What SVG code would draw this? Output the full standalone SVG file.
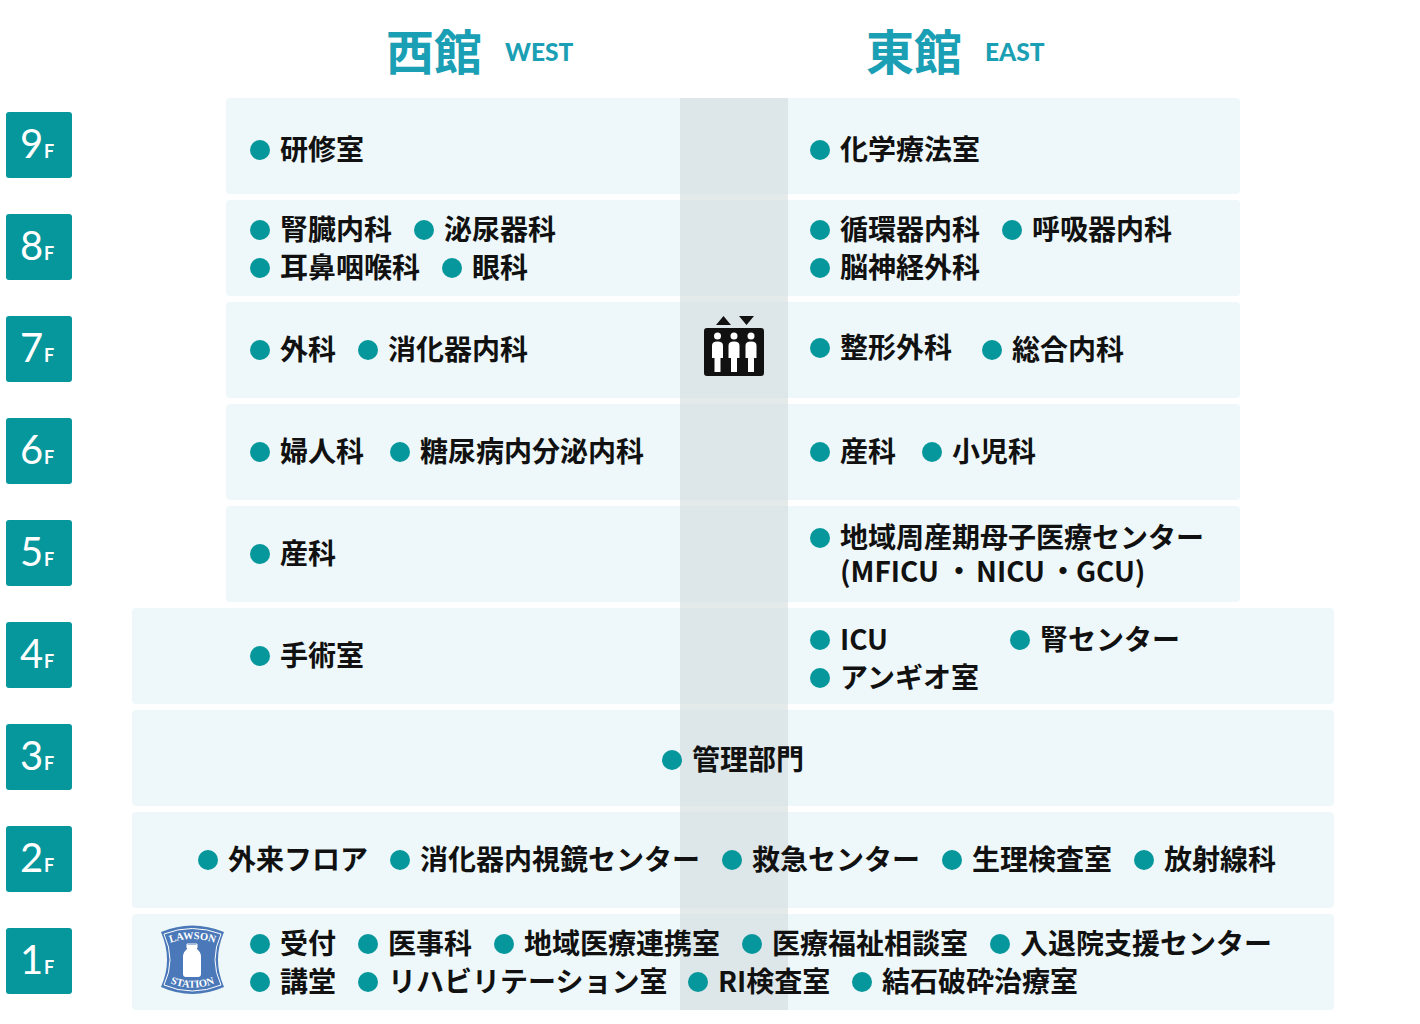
<svg xmlns="http://www.w3.org/2000/svg" width="1420" height="1024" viewBox="0 0 1420 1024">
<style>
.band{fill:#eef8fa}
.badge{fill:#05979b}
.d{fill:#05979b}
.t{font-family:"Noto Sans CJK JP","Noto Sans",sans-serif;font-size:28px;font-weight:700;fill:#111;transform:translate(-1px,1px)}
.n{font-family:"Lato",sans-serif;font-size:40px;font-weight:400;fill:#fff}
.f{font-family:"Lato",sans-serif;font-size:18px;font-weight:700;fill:#fff}
.h{font-family:"Noto Sans CJK JP",sans-serif;font-size:48px;font-weight:700;fill:#1a9fb4}
.e{font-family:"Lato",sans-serif;font-size:24.500px;font-weight:900;fill:#1a9fb4}
.lw{font-family:"Liberation Serif",serif;font-size:10.500px;font-weight:700;fill:#fff}
</style>
<defs>
<path id="person" d="M0 345.500q0-4 5.500-4t5.500 4v12.500h-2.500v14h-6v-14h-2.500z"/>
<path id="arcTop" d="M167 944 Q192 934 218 944"/>
<path id="arcBottom" d="M167 982 Q192 993 218 982"/>
</defs>
<rect width="1420" height="1024" fill="#fff"/>
<g id="headers">
<text class="h" x="386" y="70">西館</text><text class="e" x="505" y="61">WEST</text>
<text class="h" x="866" y="70">東館</text><text class="e" x="985" y="61">EAST</text>
</g>
<g id="bands">
<rect class="band" x="226" y="98" width="1014" height="96" rx="4"/>
<rect class="band" x="226" y="200" width="1014" height="96" rx="4"/>
<rect class="band" x="226" y="302" width="1014" height="96" rx="4"/>
<rect class="band" x="226" y="404" width="1014" height="96" rx="4"/>
<rect class="band" x="226" y="506" width="1014" height="96" rx="4"/>
<rect class="band" x="132" y="608" width="1202" height="96" rx="4"/>
<rect class="band" x="132" y="710" width="1202" height="96" rx="4"/>
<rect class="band" x="132" y="812" width="1202" height="96" rx="4"/>
<rect class="band" x="132" y="914" width="1202" height="96" rx="4"/>
<rect x="680" y="98" width="108" height="912" fill="#d2dadc" opacity=".6"/>
</g>
<g id="elevator">
<path d="M716 325 L723.500 316 L731 325 Z M739 316 L754 316 L746.500 325 Z" fill="#111"/>
<rect x="704" y="328" width="60" height="48" rx="3" fill="#111"/>
<g fill="#fff">
<circle cx="717.500" cy="336" r="3.500"/><circle cx="734" cy="336" r="3.500"/><circle cx="751" cy="336" r="3.500"/>
<use href="#person" x="712"/><use href="#person" x="728.500"/><use href="#person" x="745.500"/>
</g>
</g>
<g id="lawson">
<path d="M161 932 Q192 919 224 932 Q212 960 224 987 Q192 1001 161 987 Q173 960 161 932 Z" fill="#4a78b8"/>
<path d="M164 934 Q192 923 221 934 Q209 960 221 985 Q192 997 164 985 Q176 960 164 934 Z" fill="none" stroke="#fff" stroke-width="1"/>
<path d="M187 945h10v4q4 3 4 8v17q0 3-3 3h-12q-3 0-3-3v-17q0-5 4-8z" fill="#fff"/>
<path d="M187 948v-4h10v4" fill="none" stroke="#fff" stroke-width="1"/>
<text class="lw" text-anchor="middle"><textPath href="#arcTop" startOffset="50%">LAWSON</textPath></text>
<text class="lw" text-anchor="middle"><textPath href="#arcBottom" startOffset="50%">STATION</textPath></text>
</g>
<g id="f9"><rect class="badge" x="6" y="112" width="66" height="66" rx="3"/><text class="n" x="20" y="158">9</text><text class="f" x="44" y="158">F</text>
<circle class="d" cx="260" cy="150" r="10"/><text class="t" x="281" y="159">研修室</text>
<circle class="d" cx="820" cy="150" r="10"/><text class="t" x="841" y="159">化学療法室</text></g>
<g id="f8"><rect class="badge" x="6" y="214" width="66" height="66" rx="3"/><text class="n" x="20" y="260">8</text><text class="f" x="44" y="260">F</text>
<circle class="d" cx="260" cy="230" r="10"/><text class="t" x="281" y="239">腎臓内科</text>
<circle class="d" cx="424" cy="230" r="10"/><text class="t" x="445" y="239">泌尿器科</text>
<circle class="d" cx="260" cy="268" r="10"/><text class="t" x="281" y="277">耳鼻咽喉科</text>
<circle class="d" cx="452" cy="268" r="10"/><text class="t" x="473" y="277">眼科</text>
<circle class="d" cx="820" cy="230" r="10"/><text class="t" x="841" y="239">循環器内科</text>
<circle class="d" cx="1012" cy="230" r="10"/><text class="t" x="1033" y="239">呼吸器内科</text>
<circle class="d" cx="820" cy="268" r="10"/><text class="t" x="841" y="277">脳神経外科</text></g>
<g id="f7"><rect class="badge" x="6" y="316" width="66" height="66" rx="3"/><text class="n" x="20" y="362">7</text><text class="f" x="44" y="362">F</text>
<circle class="d" cx="260" cy="350" r="10"/><text class="t" x="281" y="359">外科</text>
<circle class="d" cx="368" cy="350" r="10"/><text class="t" x="389" y="359">消化器内科</text>
<circle class="d" cx="820" cy="348" r="10"/><text class="t" x="841" y="357">整形外科</text>
<circle class="d" cx="992" cy="350" r="10"/><text class="t" x="1013" y="359">総合内科</text></g>
<g id="f6"><rect class="badge" x="6" y="418" width="66" height="66" rx="3"/><text class="n" x="20" y="464">6</text><text class="f" x="44" y="464">F</text>
<circle class="d" cx="260" cy="452" r="10"/><text class="t" x="281" y="461">婦人科</text>
<circle class="d" cx="400" cy="452" r="10"/><text class="t" x="421" y="461">糖尿病内分泌内科</text>
<circle class="d" cx="820" cy="452" r="10"/><text class="t" x="841" y="461">産科</text>
<circle class="d" cx="932" cy="452" r="10"/><text class="t" x="953" y="461">小児科</text></g>
<g id="f5"><rect class="badge" x="6" y="520" width="66" height="66" rx="3"/><text class="n" x="20" y="566">5</text><text class="f" x="44" y="566">F</text>
<circle class="d" cx="260" cy="554" r="10"/><text class="t" x="281" y="563">産科</text>
<circle class="d" cx="820" cy="538" r="10"/><text class="t" x="841" y="547">地域周産期母子医療センター</text>
<text class="t" y="581"><tspan x="841">(MFICU</tspan><tspan x="946">・</tspan><tspan x="977">NICU</tspan><tspan x="1050">・</tspan><tspan x="1077">GCU)</tspan></text></g>
<g id="f4"><rect class="badge" x="6" y="622" width="66" height="66" rx="3"/><text class="n" x="20" y="668">4</text><text class="f" x="44" y="668">F</text>
<circle class="d" cx="260" cy="656" r="10"/><text class="t" x="281" y="665">手術室</text>
<circle class="d" cx="820" cy="640" r="10"/><text class="t" x="841" y="649">ICU</text>
<circle class="d" cx="1020" cy="640" r="10"/><text class="t" x="1041" y="649">腎センター</text>
<circle class="d" cx="820" cy="678" r="10"/><text class="t" x="841" y="687">アンギオ室</text></g>
<g id="f3"><rect class="badge" x="6" y="724" width="66" height="66" rx="3"/><text class="n" x="20" y="770">3</text><text class="f" x="44" y="770">F</text>
<circle class="d" cx="672" cy="760" r="10"/><text class="t" x="693" y="769">管理部門</text></g>
<g id="f2"><rect class="badge" x="6" y="826" width="66" height="66" rx="3"/><text class="n" x="20" y="872">2</text><text class="f" x="44" y="872">F</text>
<circle class="d" cx="208" cy="860" r="10"/><text class="t" x="229" y="869">外来フロア</text>
<circle class="d" cx="400" cy="860" r="10"/><text class="t" x="421" y="869">消化器内視鏡センター</text>
<circle class="d" cx="732" cy="860" r="10"/><text class="t" x="753" y="869">救急センター</text>
<circle class="d" cx="952" cy="860" r="10"/><text class="t" x="973" y="869">生理検査室</text>
<circle class="d" cx="1144" cy="860" r="10"/><text class="t" x="1165" y="869">放射線科</text></g>
<g id="f1"><rect class="badge" x="6" y="928" width="66" height="66" rx="3"/><text class="n" x="20" y="974">1</text><text class="f" x="44" y="974">F</text>
<circle class="d" cx="260" cy="944" r="10"/><text class="t" x="281" y="953">受付</text>
<circle class="d" cx="368" cy="944" r="10"/><text class="t" x="389" y="953">医事科</text>
<circle class="d" cx="504" cy="944" r="10"/><text class="t" x="525" y="953">地域医療連携室</text>
<circle class="d" cx="752" cy="944" r="10"/><text class="t" x="773" y="953">医療福祉相談室</text>
<circle class="d" cx="1000" cy="944" r="10"/><text class="t" x="1021" y="953">入退院支援センター</text>
<circle class="d" cx="260" cy="982" r="10"/><text class="t" x="281" y="991">講堂</text>
<circle class="d" cx="368" cy="982" r="10"/><text class="t" x="389" y="991">リハビリテーション室</text>
<circle class="d" cx="698" cy="982" r="10"/><text class="t" x="719" y="991">RI検査室</text>
<circle class="d" cx="862" cy="982" r="10"/><text class="t" x="883" y="991">結石破砕治療室</text></g>
</svg>
